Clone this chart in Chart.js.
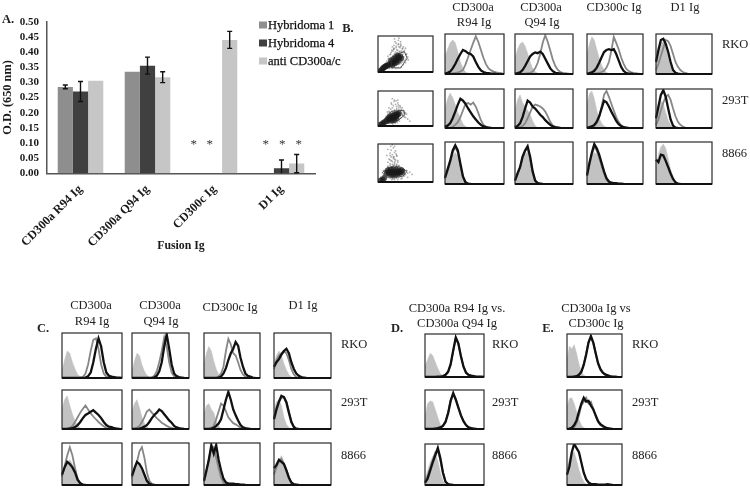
<!DOCTYPE html>
<html>
<head>
<meta charset="utf-8">
<script src="https://cdn.jsdelivr.net/npm/chart.js"></script>
<style>
    html, body { margin: 0; background: #fff; }
    #page { position: relative; width: 750px; height: 489px; overflow: hidden; font-family: "Liberation Serif", serif; color: #222; filter: blur(0.35px); }
    #page canvas { position: absolute; }
    .lbl { position: absolute; font-size: 12.5px; line-height: 14px; white-space: nowrap; transform: translate(-50%, -50%); }
    .row { position: absolute; font-size: 12.5px; line-height: 14px; transform: translateY(-50%); }
    .tag { position: absolute; font-size: 12.5px; line-height: 14px; font-weight: bold; transform: translate(-50%, -50%); }
    .leg { position: absolute; font-size: 12.5px; line-height: 14px; color: #111; -webkit-text-stroke: 0.25px #111; white-space: nowrap; transform: translateY(-50%); }
    .swatch { position: absolute; width: 8px; height: 7px; transform: translateY(-50%); }
</style>
</head>
<body>
<div id="page">
    <canvas id="odChart" width="345" height="253" style="left:0;top:0"></canvas>
</div>
<script>
// Panel A values
const fusions = ["CD300a R94 Ig", "CD300a Q94 Ig", "CD300c Ig", "D1 Ig"];
const seriesNames = ["Hybridoma 1", "Hybridoma 4", "anti CD300a/c"];
const hybridoma1 = [0.285, 0.335, 0, 0];
const hybridoma4 = [0.27, 0.355, 0, 0.017];
const antiCd300 = [0.305, 0.317, 0.44, 0.032];
const hybridoma1Err = [0.006, 0, 0, 0];
const hybridoma4Err = [0.033, 0.028, 0, 0.027];
const antiCd300Err = [0, 0.018, 0.028, 0.03];
const odTicks = [0, 0.05, 0.1, 0.15, 0.2, 0.25, 0.3, 0.35, 0.4, 0.45, 0.5];
// stars: category position on the axis, height in O.D.
const starCats = [1.69, 1.93, 2.765, 3.01, 3.257];
const starOd = [0.105, 0.105, 0.105, 0.105, 0.105];

// Histogram bins (shared x axis of all the flow panels)
const bins = [0,1,2,3,4,5,6,7,8,9,10,11,12,13,14,15,16,17,18,19,20,21,22,23];

// Panel B histograms
const bRko1Shade = [45,62,78,85,78,55,30,14,5,2,1,0];
const bRko1Gray = [1,1,1,2,3,4,6,10,24,42,60,78,94,80,60,40,24,14,9,6,4,3,2,0];
const bRko1Black = [1,3,6,14,25,38,50,60,57,52,50,44,30,18,9,5,3,2,1,1,0];
const bRko2Shade = [40,62,75,80,70,52,30,14,6,2,0];
const bRko2Gray = [0,0,0,1,1,2,3,6,14,28,50,78,97,80,58,36,20,10,5,3,2,1,0];
const bRko2Black = [1,2,4,10,20,32,44,50,54,52,56,50,38,26,14,7,3,2,1,0];
const bRko3Shade = [50,75,93,85,62,40,22,10,4,1,0];
const bRko3Gray = [0,0,1,1,2,3,5,8,16,30,58,93,78,62,42,26,14,8,5,3,2,1,0];
const bRko3Black = [1,2,4,8,16,28,42,55,60,62,60,62,50,34,18,8,3,1,1,0];
const bRko4Shade = [35,60,78,80,65,40,20,8,2,0];
const bRko4Gray = [10,25,45,65,85,82,70,50,30,18,10,5,3,1,0];
const bRko4Black = [30,60,85,88,75,55,30,10,3,1,0];
const b293t1Shade = [50,75,90,78,60,40,25,10,4,1,0];
const b293t1Gray = [0,0,1,3,8,15,28,45,62,64,60,65,55,38,20,8,3,1,0];
const b293t1Black = [3,6,12,25,42,60,75,70,62,50,40,30,22,14,8,4,2,1,0];
const b293t2Shade = [45,72,85,65,55,45,35,18,6,1,0];
const b293t2Gray = [0,1,2,5,12,25,40,55,60,58,55,50,42,30,16,6,2,1,0];
const b293t2Black = [2,5,12,28,50,70,65,55,50,42,34,28,20,14,8,4,2,1,0];
const b293t3Shade = [60,88,95,75,45,25,12,5,2,0];
const b293t3Gray = [0,1,2,5,12,28,55,85,95,80,62,45,28,15,7,3,1,0];
const b293t3Black = [1,2,4,8,16,30,50,70,66,55,42,30,18,10,5,2,1,0];
const b293t4Shade = [35,60,70,60,40,20,8,2,0];
const b293t4Gray = [8,22,45,65,80,85,72,50,30,16,8,4,1,0];
const b293t4Black = [25,55,85,97,80,50,22,6,1,0];
const b88661Shade = [10,25,45,68,75,65,40,15,3,0];
const b88661Gray = [12,30,50,75,88,75,44,16,3,0];
const b88661Black = [15,35,55,80,92,80,48,18,4,1,0];
const b88662Shade = [8,22,40,60,72,75,55,25,8,2,0];
const b88662Gray = [8,24,40,62,78,85,60,28,7,2,0];
const b88662Black = [8,25,40,65,80,90,65,30,8,2,1,0];
const b88663Shade = [25,45,65,75,70,50,35,22,8,3,1,0];
const b88663Gray = [22,45,70,88,80,60,42,25,10,4,1,0];
const b88663Black = [20,50,75,95,85,70,50,30,14,6,3,2,2,1,1,0];
const b88664Shade = [40,70,88,95,85,60,35,18,6,1,0];
const b88664Gray = [];
const b88664Black = [58,52,70,68,55,40,25,12,4,1,0];

// Panel C histograms
const cRko1Shade = [15,40,60,55,35,20,8,3,1,0];
const cRko1Gray = [0,0,0,0,0,0,0,1,2,10,30,60,85,88,65,30,10,3,1,0];
const cRko1Black = [0,0,0,0,0,0,0,0,0,1,4,12,35,65,88,70,35,12,5,3,2,1,1,0];
const cRko2Shade = [15,38,55,50,30,15,6,2,0];
const cRko2Gray = [0,0,0,0,0,0,0,0,1,5,15,35,60,90,70,35,12,4,1,0];
const cRko2Black = [0,0,0,0,0,0,0,0,0,1,5,15,35,70,97,65,30,10,4,2,1,0];
const cRko3Shade = [30,55,70,60,38,20,8,2,0];
const cRko3Gray = [0,0,0,0,0,1,3,10,25,60,87,75,55,50,35,18,8,3,1,0];
const cRko3Black = [0,0,0,0,0,0,1,3,10,22,40,55,65,80,72,45,25,10,5,3,1,0];
const cRko4Shade = [30,50,60,50,32,18,8,2,0];
const cRko4Gray = [20,40,50,55,60,55,40,20,8,2,0];
const cRko4Black = [25,35,42,52,60,65,55,35,20,10,5,2,1,0];
const c293t1Shade = [50,75,85,60,38,20,8,3,0];
const c293t1Gray = [0,0,1,3,8,18,30,42,52,60,50,40,32,25,18,12,7,3,1,0];
const c293t1Black = [0,0,0,1,2,5,10,18,28,36,40,44,48,42,36,28,18,10,6,5,2,1,0];
const c293t2Shade = [45,65,75,55,30,15,5,1,0];
const c293t2Gray = [0,1,3,8,18,30,45,50,42,35,28,22,16,12,8,5,3,1,0];
const c293t2Black = [0,0,0,1,3,6,10,18,28,36,42,50,46,38,30,22,16,8,4,2,1,0];
const c293t3Shade = [40,60,65,50,42,20,8,2,0];
const c293t3Gray = [0,0,1,3,8,25,45,65,60,45,30,22,15,12,8,3,1,0];
const c293t3Black = [0,0,0,1,3,8,14,25,50,75,95,75,50,35,22,10,4,2,1,0];
const c293t4Shade = [50,70,75,60,30,12,4,1,0];
const c293t4Gray = [30,55,70,80,82,70,45,20,6,1,0];
const c293t4Black = [25,50,70,85,82,68,42,18,5,1,0];
const c88661Shade = [25,45,55,60,50,35,15,5,1,0];
const c88661Gray = [20,45,70,90,70,40,15,5,1,0];
const c88661Black = [25,42,55,50,42,30,12,4,1,0];
const c88662Shade = [20,38,48,50,42,28,12,4,1,0];
const c88662Gray = [18,35,55,80,90,65,30,10,3,1,0];
const c88662Black = [22,40,55,50,40,25,10,3,1,0];
const c88663Shade = [10,30,60,80,85,70,45,20,6,2,0];
const c88663Gray = [8,30,65,85,90,65,40,18,5,1,0];
const c88663Black = [10,35,60,95,75,95,60,35,15,6,4,3,3,2,2,1,1,0];
const c88664Shade = [30,45,60,70,55,40,20,6,1,0];
const c88664Gray = [25,42,55,62,50,36,16,5,1,0];
const c88664Black = [40,48,60,55,50,35,18,6,2,1,0];

// Panel D histograms
const dRkoShade = [25,40,55,50,35,20,8,2,0];
const dRkoGray = [0,0,0,0,0,0,0,1,4,12,28,60,90,78,50,25,10,3,1,0];
const dRkoBlack = [0,0,0,0,0,1,1,2,5,12,30,62,92,78,48,24,10,5,3,2,1,1,1,0];
const d293tShade = [30,65,72,70,50,30,10,2,0];
const d293tGray = [0,0,0,0,1,2,4,9,20,42,74,90,78,56,36,20,9,4,2,0];
const d293tBlack = [0,0,0,0,1,2,4,8,18,40,72,92,75,55,35,20,10,4,2,1,0];
const d8866Shade = [15,35,55,70,75,60,30,10,2,0];
const d8866Gray = [8,22,40,60,80,85,60,30,8,2,0];
const d8866Black = [5,15,35,55,72,90,65,30,8,2,1,0];

// Panel E histograms
const eRkoShade = [40,72,65,75,55,30,12,4,1,0];
const eRkoGray = [0,0,0,1,2,6,13,30,54,82,93,78,54,30,16,9,5,3,1,0];
const eRkoBlack = [0,0,0,1,2,5,12,28,52,80,95,80,55,32,18,10,6,4,2,1,1,0];
const e293tShade = [55,78,80,65,45,25,10,3,1,0];
const e293tGray = [0,0,1,5,15,35,60,70,80,65,70,52,32,18,10,5,2,0];
const e293tBlack = [0,1,3,10,22,45,65,80,70,72,60,50,35,20,12,8,4,2,1,0];
const e8866Shade = [40,65,82,80,60,38,20,8,2,0];
const e8866Gray = [];
const e8866Black = [25,45,80,100,90,80,55,30,14,6,3,2,2,1,1,1,1,2,1,0];

// Panel B forward/side scatter, read as percent of the panel
const rkoCloudX = [6,8,10,12,14,9,15,18,20,16,22,24,19,26,28,23,30,27,32,34,29,36,38,33,40,42,37,44,46,41,48,50,45,25,21,31,35,39,43,47,52,28,24,33,37,30,26,41,22,18,36,44,34,29,40,31,25,38,27,20,10,13,17,20,24,27,30,33,36,39,42,45,48,51,54,15,19,23,27,31,35,39,43,47,51,12,16,21,26,32,37,42,46,50,55,29,33,37,41,45];
const rkoCloudY = [3,5,8,12,15,10,20,24,28,30,32,36,38,42,46,50,52,58,56,62,66,60,70,72,68,74,78,64,70,78,60,66,48,24,18,28,30,40,36,42,50,62,55,80,88,92,70,84,48,44,45,54,38,74,58,84,60,94,34,22,14,18,26,16,14,16,14,18,20,22,24,28,32,36,42,24,34,40,44,48,54,56,58,54,48,8,12,10,10,10,12,14,20,26,34,64,68,76,72,66];
const rkoCoreX = [4,6,8,10,12,14,16,18,22,25,28,31,34,37,40,26,30,34,38,24,29,33,36,42];
const rkoCoreY = [2,4,8,12,14,16,18,18,22,25,28,32,36,40,44,20,24,28,32,32,36,42,46,38];
const rkoGateX = [24,35,48,53,41,25,24];
const rkoGateY = [31,50,57,38,11,12,31];

const t293CloudX = [5,8,11,13,16,12,20,23,26,15,18,21,30,34,38,42,46,50,28,32,36,40,44,25,29,33,37,41,22,19,27,31,35,39,24,17,45,48,26,30,34,38,20,23,52,36,8,12,15,18,21,24,27,30,33,36,39,42,45,48,14,18,22,26,30,34,38,42,46,17,21,25,29,33,37,41,45,50,54,58];
const t293CloudY = [3,5,7,14,18,20,42,48,52,28,34,38,46,50,54,48,44,38,58,62,66,58,52,62,70,72,60,54,12,8,6,8,10,14,66,40,30,26,78,74,56,44,52,30,34,74,10,10,12,10,10,10,12,12,14,16,20,24,30,36,24,32,38,42,44,46,48,44,40,26,32,36,40,42,42,38,34,24,20,14];
const t293CoreX = [4,7,10,13,16,18,21,24,27,30,33,36,22,26,30,34,38,20,25,29,33];
const t293CoreY = [3,6,9,12,15,18,20,22,24,26,28,32,26,30,32,34,36,22,16,18,22];
const t293GateX = [13,24,47,49,32,15,13];
const t293GateY = [22,42,45,32,10,8,22];

const n8866CloudX = [6,9,12,5,10,14,18,22,26,30,34,38,20,24,28,32,36,16,22,26,30,34,18,24,28,32,26,30,22,28,24,20,34,40,46,52,58,48,54,44,62,42,36,30,25,27,31,23,29,33,10,14,18,22,26,30,34,38,42,46,50,54,12,16,20,24,28,32,36,40,44,48,52,10,14,18,22,26,30,34,38,42,46,18,24,30,36,22,28,34];
const n8866CloudY = [4,6,10,12,16,20,42,48,54,50,46,44,60,66,62,58,52,70,76,72,78,68,86,84,90,82,98,94,58,44,40,36,40,38,34,30,26,16,12,10,20,8,6,6,6,8,54,94,66,74,18,14,12,10,10,10,10,12,14,16,20,24,26,30,34,38,40,40,38,36,34,32,30,30,24,40,44,46,46,44,42,26,22,52,56,60,56,70,66,70];
const n8866CoreX = [16,20,24,28,32,36,40,44,18,23,28,33,38,43,20,26,32,38,4,8,11];
const n8866CoreY = [24,22,20,20,20,22,24,26,30,32,32,32,30,30,26,26,26,26,3,6,10];
const n8866GateX = [8,16,30,44,52,46,30,14,8];
const n8866GateY = [25,37,42,38,27,16,11,14,25];

// Where things go on the page
const histColsB = [[444, 61], [514, 60], [586, 58], [655, 58]];
const histRowsB = [[33, 42], [88, 41], [141, 44]];
const histColsC = [[61, 62], [131, 59], [203, 58], [273, 59]];
const histRowsC = [[332, 47], [389, 41], [442, 44]];
const histRowsDE = [[333, 45], [389, 41], [443, 43]];
const colD = [424, 61];
const colE = [566, 57];
const scatterCol = [375, 61];

const panelsB = [
    [[bRko1Shade, bRko1Gray, bRko1Black], [bRko2Shade, bRko2Gray, bRko2Black], [bRko3Shade, bRko3Gray, bRko3Black], [bRko4Shade, bRko4Gray, bRko4Black]],
    [[b293t1Shade, b293t1Gray, b293t1Black], [b293t2Shade, b293t2Gray, b293t2Black], [b293t3Shade, b293t3Gray, b293t3Black], [b293t4Shade, b293t4Gray, b293t4Black]],
    [[b88661Shade, b88661Gray, b88661Black], [b88662Shade, b88662Gray, b88662Black], [b88663Shade, b88663Gray, b88663Black], [b88664Shade, b88664Gray, b88664Black]]
];
const panelsC = [
    [[cRko1Shade, cRko1Gray, cRko1Black], [cRko2Shade, cRko2Gray, cRko2Black], [cRko3Shade, cRko3Gray, cRko3Black], [cRko4Shade, cRko4Gray, cRko4Black]],
    [[c293t1Shade, c293t1Gray, c293t1Black], [c293t2Shade, c293t2Gray, c293t2Black], [c293t3Shade, c293t3Gray, c293t3Black], [c293t4Shade, c293t4Gray, c293t4Black]],
    [[c88661Shade, c88661Gray, c88661Black], [c88662Shade, c88662Gray, c88662Black], [c88663Shade, c88663Gray, c88663Black], [c88664Shade, c88664Gray, c88664Black]]
];
const panelsD = [[dRkoShade, dRkoGray, dRkoBlack], [d293tShade, d293tGray, d293tBlack], [d8866Shade, d8866Gray, d8866Black]];
const panelsE = [[eRkoShade, eRkoGray, eRkoBlack], [e293tShade, e293tGray, e293tBlack], [e8866Shade, e8866Gray, e8866Black]];

const page = document.getElementById("page");
const barColors = ["#8e8e8e", "#404040", "#c6c6c6"];

function AddText(cls, text, x, y) {
    let el = document.createElement("div");
    el.className = cls;
    el.textContent = text;
    el.style.left = x + "px";
    el.style.top = y + "px";
    page.appendChild(el);
    return el;
}

// Error bars and the asterisks on panel A
const errorBars = {
    id: "errorBars",
    afterDatasetsDraw(chart) {
        const ctx = chart.ctx;
        const y = chart.scales.y;
        const errs = [hybridoma1Err, hybridoma4Err, antiCd300Err];
        ctx.save();
        ctx.strokeStyle = "#111";
        ctx.lineWidth = 1.4;
        errs.forEach((list, s) => {
            const bars = chart.getDatasetMeta(s).data;
            const vals = chart.data.datasets[s].data;
            list.forEach((e, i) => {
                if (!e) return;
                const x = bars[i].x;
                const top = y.getPixelForValue(vals[i] + e);
                const bottom = y.getPixelForValue(Math.max(vals[i] - e, 0));
                ctx.beginPath();
                ctx.moveTo(x, top);
                ctx.lineTo(x, bottom);
                ctx.moveTo(x - 2.5, top);
                ctx.lineTo(x + 2.5, top);
                if (vals[i] - e > 0) {
                    ctx.moveTo(x - 2.5, bottom);
                    ctx.lineTo(x + 2.5, bottom);
                }
                ctx.stroke();
            });
        });
        ctx.fillStyle = "#333";
        ctx.font = "13px 'Liberation Serif'";
        ctx.textAlign = "center";
        ctx.textBaseline = "middle";
        const step = chart.scales.x.getPixelForValue(1) - chart.scales.x.getPixelForValue(0);
        starCats.forEach((c, i) => {
            const x = chart.scales.x.getPixelForValue(0) + c * step;
            ctx.fillText("*", x, y.getPixelForValue(starOd[i]) + 3);
        });
        ctx.restore();
    }
};

new Chart(document.getElementById("odChart"), {
    type: "bar",
    data: {
        labels: fusions,
        datasets: [
            { label: seriesNames[0], data: hybridoma1, backgroundColor: barColors[0] },
            { label: seriesNames[1], data: hybridoma4, backgroundColor: barColors[1] },
            { label: seriesNames[2], data: antiCd300, backgroundColor: barColors[2] }
        ]
    },
    options: {
        responsive: false,
        animation: false,
        layout: { padding: { top: 21.7, right: 30, left: 0, bottom: 0 } },
        datasets: { bar: { barPercentage: 1, categoryPercentage: 0.68 } },
        plugins: { legend: { display: false }, tooltip: { enabled: false } },
        scales: {
            x: {
                grid: { display: false, drawTicks: false },
                border: { color: "#555", width: 1.5 },
                afterFit(scale) { scale.height = 253 - 173.3; },
                ticks: { minRotation: 45, maxRotation: 45, padding: 9, color: "#1a1a1a", font: { family: "Liberation Serif", size: 12.3, weight: "bold" } },
                title: { display: true, text: "Fusion Ig", color: "#1a1a1a", padding: 0, font: { family: "Liberation Serif", size: 11.8, weight: "bold" } }
            },
            y: {
                min: 0,
                max: 0.5,
                afterFit(scale) { scale.width = 47; },
                afterBuildTicks(scale) { scale.ticks = odTicks.map(v => ({ value: v })); },
                grid: { display: false, drawTicks: false },
                border: { color: "#555", width: 1.5 },
                ticks: { autoSkip: false, padding: 8, color: "#1a1a1a", callback: v => v.toFixed(2), font: { family: "Liberation Serif", size: 11, weight: "bold" } },
                title: { display: true, text: "O.D. (650 nm)", color: "#1a1a1a", padding: 0, font: { family: "Liberation Serif", size: 12.3, weight: "bold" } }
            }
        }
    },
    plugins: [errorBars]
});

// Plain frame round each flow panel, the base line runs heavier
const frame = {
    id: "frame",
    afterDatasetsDraw(chart) {
        const a = chart.chartArea;
        const ctx = chart.ctx;
        ctx.save();
        ctx.strokeStyle = "#2a2a2a";
        ctx.lineWidth = 1.2;
        ctx.strokeRect(a.left, a.top, a.right - a.left, a.bottom - a.top);
        ctx.lineWidth = 1.8;
        ctx.strokeStyle = "#111";
        ctx.beginPath();
        ctx.moveTo(a.left, a.bottom);
        ctx.lineTo(a.right, a.bottom);
        ctx.stroke();
        ctx.restore();
    }
};

function AddCanvas(col, row) {
    let canvas = document.createElement("canvas");
    canvas.width = col[1];
    canvas.height = row[1];
    canvas.style.left = col[0] + "px";
    canvas.style.top = row[0] + "px";
    page.appendChild(canvas);
    return canvas;
}

function CreateHistogram(col, row, curves) {
    new Chart(AddCanvas(col, row), {
        type: "line",
        data: {
            labels: bins,
            datasets: [
                { data: curves[2], borderColor: "#111", borderWidth: 2.3, order: 1 },
                { data: curves[1], borderColor: "#878787", borderWidth: 1.8, order: 2 },
                { data: curves[0], borderColor: "#c2c2c2", borderWidth: 0.5, backgroundColor: "#c2c2c2", fill: "origin", order: 3 }
            ]
        },
        options: {
            responsive: false,
            animation: false,
            layout: { padding: 1 },
            elements: { point: { radius: 0, hoverRadius: 0 }, line: { tension: 0 } },
            plugins: { legend: { display: false }, tooltip: { enabled: false } },
            scales: {
                x: { display: false },
                y: { display: false, min: 0, max: 100 }
            }
        },
        plugins: [frame]
    });
}

function Zip(xs, ys) {
    return xs.map((x, i) => ({ x: x, y: ys[i] }));
}

function CreateScatter(row, cloudX, cloudY, coreX, coreY, gateX, gateY) {
    new Chart(AddCanvas(scatterCol, row), {
        type: "scatter",
        data: {
            datasets: [
                { data: Zip(gateX, gateY), showLine: true, borderColor: "#333", borderWidth: 0.8, pointRadius: 0, pointHoverRadius: 0, order: 1 },
                { data: Zip(coreX, coreY), pointRadius: 3, pointHoverRadius: 0, pointBorderWidth: 0, backgroundColor: "rgba(25,25,25,0.7)", order: 2 },
                { data: Zip(cloudX, cloudY), pointRadius: 0.9, pointHoverRadius: 0, pointBorderWidth: 0, backgroundColor: "rgba(60,60,60,0.4)", order: 3 }
            ]
        },
        options: {
            responsive: false,
            animation: false,
            layout: { padding: 1 },
            plugins: { legend: { display: false }, tooltip: { enabled: false } },
            scales: {
                x: { display: false, min: 0, max: 100 },
                y: { display: false, min: 0, max: 100 }
            }
        },
        plugins: [frame]
    });
}

CreateScatter(histRowsB[0], rkoCloudX, rkoCloudY, rkoCoreX, rkoCoreY, rkoGateX, rkoGateY);
CreateScatter(histRowsB[1], t293CloudX, t293CloudY, t293CoreX, t293CoreY, t293GateX, t293GateY);
CreateScatter(histRowsB[2], n8866CloudX, n8866CloudY, n8866CoreX, n8866CoreY, n8866GateX, n8866GateY);

panelsB.forEach((r, i) => r.forEach((c, j) => CreateHistogram(histColsB[j], histRowsB[i], c)));
panelsC.forEach((r, i) => r.forEach((c, j) => CreateHistogram(histColsC[j], histRowsC[i], c)));
panelsD.forEach((c, i) => CreateHistogram(colD, histRowsDE[i], c));
panelsE.forEach((c, i) => CreateHistogram(colE, histRowsDE[i], c));

// Legend of panel A
const legendY = [25, 43, 61];
seriesNames.forEach((name, i) => {
    let sw = AddText("swatch", "", 259, legendY[i]);
    sw.style.background = barColors[i];
    AddText("leg", name, 268, legendY[i]);
});

// Panel letters and headers
AddText("tag", "A.", 8, 19);
AddText("tag", "B.", 348, 28);
AddText("tag", "C.", 43, 328);
AddText("tag", "D.", 397, 328);
AddText("tag", "E.", 548, 328);

AddText("lbl", "CD300a", 473, 7);
AddText("lbl", "R94 Ig", 474, 22);
AddText("lbl", "CD300a", 541, 7);
AddText("lbl", "Q94 Ig", 542, 22);
AddText("lbl", "CD300c Ig", 614, 7);
AddText("lbl", "D1 Ig", 685, 7);
AddText("lbl", "CD300a", 91, 305);
AddText("lbl", "R94 Ig", 92, 321);
AddText("lbl", "CD300a", 160, 305);
AddText("lbl", "Q94 Ig", 161, 321);
AddText("lbl", "CD300c Ig", 230, 307);
AddText("lbl", "D1 Ig", 303, 305);
AddText("lbl", "CD300a R94 Ig vs.", 457, 308);
AddText("lbl", "CD300a Q94 Ig", 457, 323);
AddText("lbl", "CD300a Ig vs", 596, 308);
AddText("lbl", "CD300c Ig", 596, 323);

const cellLines = ["RKO", "293T", "8866"];
const rowYB = [44, 100, 153];
const rowYLower = [344, 402, 455];
cellLines.forEach((name, i) => {
    AddText("row", name, 722, rowYB[i]);
    AddText("row", name, 341, rowYLower[i]);
    AddText("row", name, 492, rowYLower[i]);
    AddText("row", name, 632, rowYLower[i]);
});
</script>
</body>
</html>
